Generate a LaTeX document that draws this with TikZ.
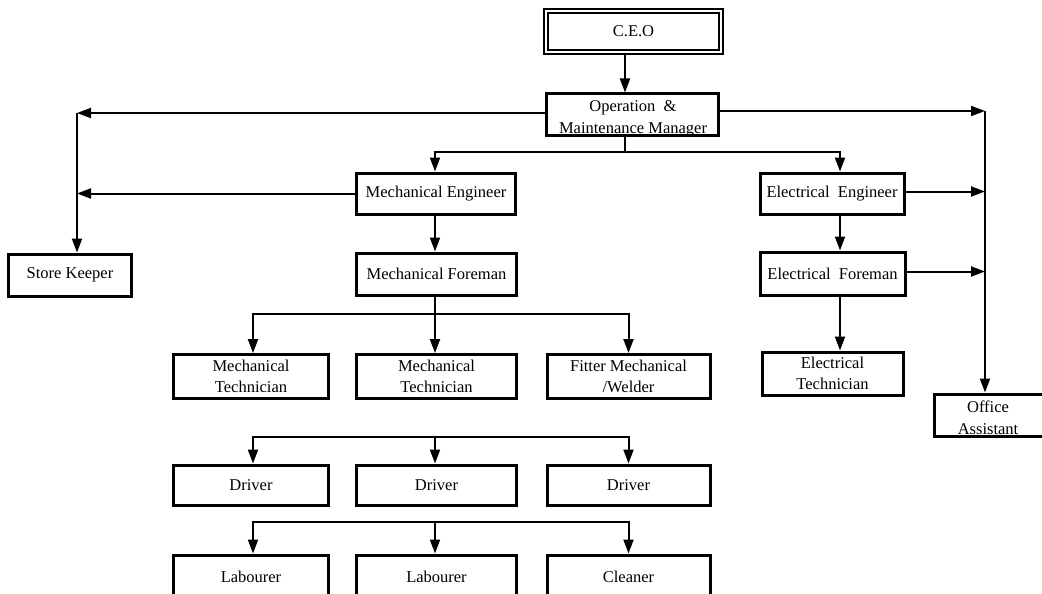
\documentclass[tikz,border=0pt]{standalone}
\usepackage{fontspec}
\setmainfont{Liberation Serif}
\usetikzlibrary{arrows.meta}
\begin{document}
\begin{tikzpicture}[x=1pt,y=-1pt,
  box/.style={draw, line width=3pt, rectangle, inner sep=0pt, align=center,
    font=\fontsize{16.5}{21}\selectfont},
  ceobox/.style={draw, double, double distance=2.4pt, line width=1.4pt, rectangle,
    inner sep=0pt, font=\fontsize{16.5}{21}\selectfont},
  lbl/.style={inner sep=0pt, align=center, font=\fontsize{16.5}{22}\selectfont},
  arr/.style={line width=2pt, -{Triangle[length=14pt,width=10pt]}},
  ln/.style={line width=2pt}]
\useasboundingbox (0,0) rectangle (1042,594);
\clip (0,0) rectangle (1042,594);

% top of the chart
\node[ceobox, minimum width=175pt, minimum height=41pt] (ceo) at (633.5,31.5) {C.E.O};
\node[box, minimum width=172pt, minimum height=41pt] (omm) at (632.5,114.5) {};
\node[lbl] at (633,119) {Operation \ \&\\Maintenance Manager};

% side boxes
\node[box, minimum width=123pt, minimum height=42pt] (sk) at (70,275) {Store Keeper};
\node[box, minimum width=112pt, minimum height=42pt] (oa) at (990,415) {};
\node[lbl] at (988,418) {Office\\Assistant};

% mechanical branch
\node[box, minimum width=159pt, minimum height=41pt] (me) at (436,193.5) {Mechanical Engineer};
\node[box, minimum width=160pt, minimum height=42pt] (mf) at (436.5,274) {Mechanical Foreman};
\node[box, minimum width=155pt, minimum height=44pt] (mt1) at (251,376.5) {Mechanical\\Technician};
\node[box, minimum width=160pt, minimum height=44pt] (mt2) at (436.5,376.5) {Mechanical\\Technician};
\node[box, minimum width=163pt, minimum height=44pt] (fit) at (628.5,376.5) {Fitter Mechanical\\/Welder};

\node[box, minimum width=155pt, minimum height=40pt] (dr1) at (251,485) {Driver};
\node[box, minimum width=160pt, minimum height=40pt] (dr2) at (436.5,485) {Driver};
\node[box, minimum width=163pt, minimum height=40pt] (dr3) at (628.5,485) {Driver};

\node[box, minimum width=155pt, minimum height=56pt] (lb1) at (251,583) {};
\node[box, minimum width=160pt, minimum height=56pt] (lb2) at (436.5,583) {};
\node[box, minimum width=163pt, minimum height=56pt] (cl) at (628.5,583) {};
\node[lbl] at (251,577) {Labourer};
\node[lbl] at (436.5,577) {Labourer};
\node[lbl] at (628.5,577) {Cleaner};

% electrical branch
\node[box, minimum width=144pt, minimum height=41pt] (ee) at (832,193.5) {Electrical \ Engineer};
\node[box, minimum width=145pt, minimum height=43pt] (ef) at (832.5,273.5) {Electrical \ Foreman};
\node[box, minimum width=141pt, minimum height=43pt] (et) at (832.5,373.5) {Electrical\\Technician};

% connector positions
\coordinate (xc) at (625,0);
\coordinate (xm) at (435,0);
\coordinate (xe) at (840,0);
\coordinate (kl) at (77,113);
\coordinate (kr) at (985,111);
\coordinate (s1) at (625,152);
\coordinate (s2) at (435,314);
\coordinate (s3) at (435,437);
\coordinate (s4) at (435,522);
\coordinate (eeR) at ([yshift=2pt]ee.east);
\coordinate (efR) at ([yshift=2pt]ef.east);

% C.E.O to manager
\draw[arr] (ceo.south -| xc) -- (omm.north -| xc);

% manager to store keeper and office assistant
\draw[arr] (omm.west |- kl) -- (kl);
\draw[arr] (kl) -- (kl |- sk.north);
\draw[arr] (omm.east |- kr) -- (kr);
\draw[arr] (kr) -- (kr |- oa.north);

% manager to engineers
\draw[ln] (omm.south -| xc) -- (s1);
\draw[arr] (s1) -| (me.north -| xm);
\draw[arr] (s1) -| (ee.north -| xe);

% engineers to side lines
\draw[arr] (me.west) -- (kl |- me.west);
\draw[arr] (eeR) -- (kr |- eeR);
\draw[arr] (efR) -- (kr |- efR);

% mechanical chain
\draw[arr] (me.south -| xm) -- (mf.north -| xm);
\draw[ln] (mf.south -| xm) -- (s2);
\draw[arr] (s2) -| ([xshift=2pt]mt1.north);
\draw[arr] (s2) -- (mt2.north -| xm);
\draw[arr] (s2) -| (fit.north);

\draw[arr] (s3) -| ([xshift=2pt]dr1.north);
\draw[arr] (s3) -- (dr2.north -| xm);
\draw[arr] (s3) -| (dr3.north);

\draw[arr] (s4) -| ([xshift=2pt]lb1.north);
\draw[arr] (s4) -- (lb2.north -| xm);
\draw[arr] (s4) -| (cl.north);

% electrical chain
\draw[arr] (ee.south -| xe) -- (ef.north -| xe);
\draw[arr] (ef.south -| xe) -- (et.north -| xe);
\end{tikzpicture}
\end{document}
